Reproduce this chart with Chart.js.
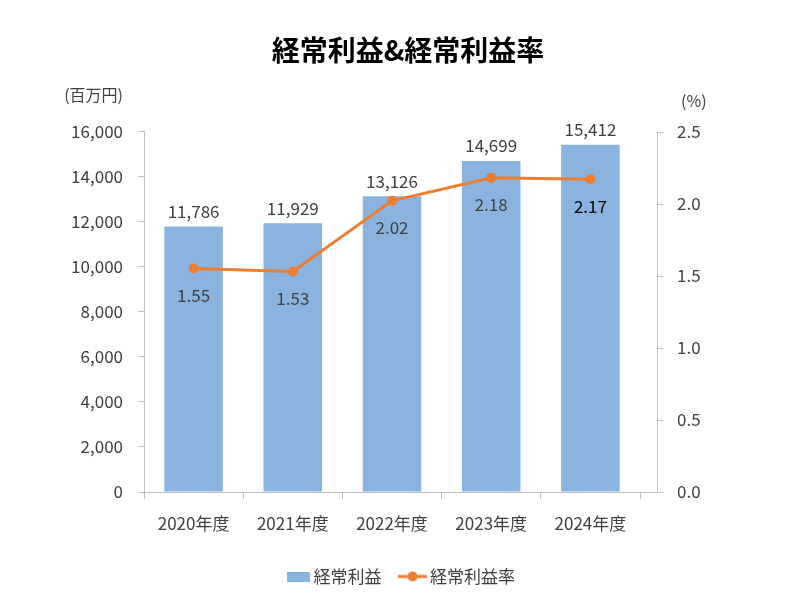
<!DOCTYPE html>
<html>
<head>
<meta charset="utf-8">
<script src="https://cdn.jsdelivr.net/npm/chart.js@4.4.1/dist/chart.umd.min.js"></script>
<style>
html, body { margin: 0; padding: 0; background: #fff; }
</style>
</head>
<body>
<canvas id="chart" width="806" height="600"></canvas>
<script>
var years = ["2020年度", "2021年度", "2022年度", "2023年度", "2024年度"];
var ordinary_profit = [11786, 11929, 13126, 14699, 15412];
var profit_rate = [1.55, 1.53, 2.02, 2.18, 2.17];
var rate_label_colors = ["#404040", "#404040", "#404040", "#404040", "#000000"];

var title_text = "経常利益&経常利益率";
var left_unit = "(百万円)";
var right_unit = "(%)";
var bar_name = "経常利益";
var line_name = "経常利益率";

var bar_color = "#8ab4df";
var line_color = "#ed7d31";
var axis_color = "#bfbfbf";
var text_color = "#404040";
var font_family = "'Noto Sans CJK JP', 'Noto Sans', sans-serif";

Chart.defaults.font.family = font_family;
Chart.defaults.color = text_color;

// legend symbols drawn into small canvases (centered on the legend box)
function make_bar_symbol() {
    var c = document.createElement("canvas");
    c.width = 32; c.height = 10;
    var g = c.getContext("2d");
    g.fillStyle = bar_color;
    g.fillRect(0, 0, 23, 10);
    return c;
}

function make_line_symbol() {
    var c = document.createElement("canvas");
    c.width = 43; c.height = 12;
    var g = c.getContext("2d");
    g.strokeStyle = line_color;
    g.lineWidth = 3;
    g.beginPath();
    g.moveTo(0, 6); g.lineTo(29, 6);
    g.stroke();
    g.fillStyle = line_color;
    g.beginPath();
    g.arc(14.5, 6, 5, 0, Math.PI * 2);
    g.fill();
    return c;
}

var value_labels = {
    id: "value_labels",
    afterDatasetsDraw: function(chart) {
        var ctx = chart.ctx;
        ctx.save();
        ctx.font = "17px " + font_family;
        ctx.textAlign = "center";
        ctx.textBaseline = "middle";

        var bars = chart.getDatasetMeta(0).data;
        bars.forEach(function(bar, i) {
            ctx.fillStyle = text_color;
            ctx.fillText(ordinary_profit[i].toLocaleString("en-US"), bar.x, bar.y - 15);
        });

        var points = chart.getDatasetMeta(1).data;
        points.forEach(function(pt, i) {
            ctx.fillStyle = rate_label_colors[i];
            ctx.fillText(profit_rate[i].toFixed(2), pt.x, pt.y + 27);
        });
        ctx.restore();
    }
};

var axis_extra = {
    id: "axis_extra",
    afterDraw: function(chart) {
        var ctx = chart.ctx;
        var area = chart.chartArea;
        var y1 = chart.scales.y1;
        var axis_x = Math.round(area.right + 17) + 0.5;

        ctx.save();
        ctx.strokeStyle = axis_color;
        ctx.lineWidth = 1;
        ctx.beginPath();
        ctx.moveTo(axis_x, area.top);
        ctx.lineTo(axis_x, area.bottom);
        y1.ticks.forEach(function(t) {
            var py = Math.round(y1.getPixelForValue(t.value)) + 0.5;
            ctx.moveTo(axis_x, py);
            ctx.lineTo(axis_x + 6, py);
        });
        var by = Math.round(area.bottom) + 0.5;
        ctx.moveTo(area.right, by);
        ctx.lineTo(axis_x, by);
        ctx.stroke();

        ctx.fillStyle = text_color;
        ctx.font = "16px " + font_family;
        ctx.textBaseline = "middle";
        ctx.textAlign = "right";
        ctx.fillText(left_unit, 123, 95);
        ctx.textAlign = "left";
        ctx.fillText(right_unit, 681, 101);
        ctx.restore();
    }
};

new Chart(document.getElementById("chart"), {
    type: "bar",
    data: {
        labels: years,
        datasets: [
            {
                type: "bar",
                label: bar_name,
                data: ordinary_profit,
                backgroundColor: bar_color,
                yAxisID: "y",
                order: 1,
                barPercentage: 0.59,
                categoryPercentage: 1
            },
            {
                type: "line",
                label: line_name,
                data: profit_rate,
                borderColor: line_color,
                backgroundColor: line_color,
                borderWidth: 3,
                pointRadius: 5,
                pointBackgroundColor: line_color,
                pointBorderWidth: 0,
                yAxisID: "y1",
                order: 0
            }
        ]
    },
    options: {
        responsive: false,
        animation: false,
        layout: {
            padding: { left: 14, right: 4, top: 0, bottom: 5 }
        },
        plugins: {
            title: {
                display: true,
                text: title_text,
                color: "#000000",
                font: { size: 28, weight: "bold", family: font_family },
                padding: { top: 34, bottom: 64 }
            },
            tooltip: { enabled: false },
            legend: {
                position: "bottom",
                labels: {
                    usePointStyle: true,
                    pointStyleWidth: 4,
                    boxHeight: 16,
                    padding: 36,
                    color: text_color,
                    font: { size: 17, family: font_family },
                    generateLabels: function(chart) {
                        return [
                            { text: bar_name, pointStyle: make_bar_symbol(), fillStyle: bar_color, strokeStyle: bar_color, lineWidth: 0, datasetIndex: 0, fontColor: text_color },
                            { text: line_name, pointStyle: make_line_symbol(), fillStyle: line_color, strokeStyle: line_color, lineWidth: 0, datasetIndex: 1, fontColor: text_color }
                        ];
                    }
                }
            }
        },
        scales: {
            x: {
                grid: {
                    offset: true,
                    drawOnChartArea: false,
                    drawTicks: true,
                    tickLength: 7,
                    color: axis_color
                },
                border: { color: axis_color },
                ticks: {
                    padding: 14,
                    color: text_color,
                    font: { size: 17 }
                },
                afterFit: function(scale) { scale.height = 40; }
            },
            y: {
                position: "left",
                min: 0,
                max: 16000,
                grid: {
                    drawOnChartArea: false,
                    drawTicks: true,
                    tickLength: 6,
                    color: axis_color
                },
                border: { color: axis_color },
                ticks: {
                    stepSize: 2000,
                    padding: 15,
                    color: text_color,
                    font: { size: 17 },
                    callback: function(v) { return v.toLocaleString("en-US"); }
                },
                afterFit: function(scale) { scale.width = 130; }
            },
            y1: {
                position: "right",
                min: 0,
                max: 2.5,
                grid: { display: false, drawTicks: false },
                border: { display: false },
                ticks: {
                    stepSize: 0.5,
                    padding: 37,
                    color: text_color,
                    font: { size: 17 },
                    callback: function(v) { return v.toFixed(1); }
                },
                afterFit: function(scale) { scale.width = 162; }
            }
        }
    },
    plugins: [value_labels, axis_extra]
});
</script>
</body>
</html>
